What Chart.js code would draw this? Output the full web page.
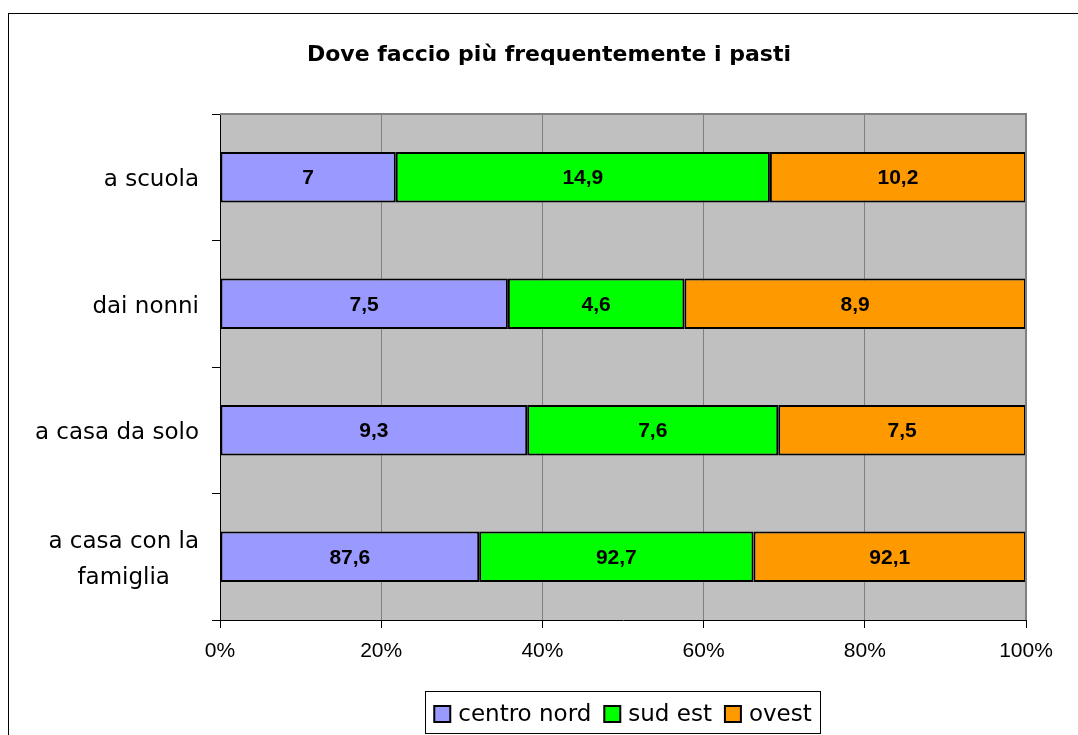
<!DOCTYPE html>
<html>
<head>
<meta charset="utf-8">
<script src="https://cdn.jsdelivr.net/npm/chart.js@4"></script>
<style>
  html, body { margin: 0; padding: 0; background: #fff; }
  #wrap { width: 1078px; height: 735px; }
</style>
</head>
<body>
<div id="wrap"><canvas id="chart" width="1078" height="735"></canvas></div>
<script>
// dati
const titolo = "Dove faccio più frequentemente i pasti";
const categorie = [["a scuola"], ["dai nonni"], ["a casa da solo"], ["a casa con la", "famiglia"]];
const serie = ["centro nord", "sud est", "ovest"];
const centroNord = [7, 7.5, 9.3, 87.6];
const sudEst = [14.9, 4.6, 7.6, 92.7];
const ovest = [10.2, 8.9, 7.5, 92.1];
const colori = ["#9999FF", "#00FF00", "#FF9900"];
const tickPercent = [0, 20, 40, 60, 80, 100];

const valori = [centroNord, sudEst, ovest];
// 100% in pila: percentuale di ogni riga
const totali = categorie.map((c, i) => centroNord[i] + sudEst[i] + ovest[i]);
const percentuali = valori.map(v => v.map((x, i) => x / totali[i] * 100));

const fmt = n => String(n).replace(".", ",");

const cornice = {
  id: "cornice",
  beforeDraw(chart) {
    const { ctx, chartArea: a } = chart;
    ctx.save();
    // bordo esterno
    ctx.strokeStyle = "#000";
    ctx.lineWidth = 1;
    ctx.strokeRect(8.5, 13.5, chart.width + 20, chart.height + 20);
    // sfondo area grafico
    ctx.fillStyle = "#C0C0C0";
    ctx.fillRect(a.left, a.top, a.right - a.left, a.bottom - a.top);
    // titolo
    ctx.fillStyle = "#000";
    ctx.font = "bold 22px 'DejaVu Sans', sans-serif";
    ctx.textAlign = "center";
    ctx.textBaseline = "middle";
    ctx.fillText(titolo, 549, 55);
    ctx.restore();
  },
  afterDatasetsDraw(chart) {
    const { ctx, chartArea: a } = chart;
    ctx.save();
    ctx.strokeStyle = "#808080";
    ctx.lineWidth = 2;
    ctx.beginPath();
    ctx.moveTo(a.left, a.top);
    ctx.lineTo(a.right, a.top);
    ctx.lineTo(a.right, a.bottom);
    ctx.stroke();

    // etichette valori
    ctx.fillStyle = "#000";
    ctx.font = "bold 21px 'Liberation Sans', Arial, sans-serif";
    ctx.textAlign = "center";
    ctx.textBaseline = "middle";
    chart.data.datasets.forEach((ds, di) => {
      chart.getDatasetMeta(di).data.forEach((bar, i) => {
        const x = (bar.x + bar.base) / 2;
        ctx.fillText(fmt(valori[di][i]), x, bar.y + 1);
      });
    });

    // etichette categorie (asse y)
    const ys = chart.scales.y;
    ctx.font = "23px 'DejaVu Sans', sans-serif";
    const destra = a.left - 21;
    categorie.forEach((righe, i) => {
      const yc = ys.getPixelForTick(i) + 3;
      const larg = Math.max(...righe.map(r => ctx.measureText(r).width));
      const cx = destra - larg / 2;
      const lh = 36;
      righe.forEach((r, k) => {
        ctx.fillText(r, cx, yc + (k - (righe.length - 1) / 2) * lh);
      });
    });

    // legenda
    ctx.font = "23px 'DejaVu Sans', sans-serif";
    ctx.textAlign = "left";
    const quad = 16, spazio = 8, gap = 13, padX = 9;
    const larghezze = serie.map(s => quad + spazio + ctx.measureText(s).width);
    const totale = larghezze.reduce((s, w) => s + w, 0) + gap * (serie.length - 1);
    const boxW = totale + padX * 2;
    const boxL = 623 - boxW / 2;
    const boxT = 691, cy = 714;
    ctx.strokeStyle = "#000";
    ctx.lineWidth = 1;
    ctx.strokeRect(Math.round(boxL) + 0.5, boxT + 0.5, Math.round(boxW), 42);
    let x = boxL + padX;
    serie.forEach((s, i) => {
      ctx.fillStyle = colori[i];
      ctx.fillRect(x, cy - quad / 2, quad, quad);
      ctx.strokeStyle = "#000";
      ctx.lineWidth = 2;
      ctx.strokeRect(x, cy - quad / 2, quad, quad);
      ctx.fillStyle = "#000";
      ctx.fillText(s, x + quad + spazio, cy + 1);
      x += larghezze[i] + gap;
    });
    ctx.restore();
  }
};

new Chart(document.getElementById("chart"), {
  type: "bar",
  data: {
    labels: categorie.map(c => c.join(" ")),
    datasets: serie.map((s, i) => ({
      label: s,
      data: percentuali[i],
      backgroundColor: colori[i],
      borderColor: "#000",
      borderWidth: 2,
      borderSkipped: false,
      barPercentage: 0.4,
      categoryPercentage: 1
    }))
  },
  options: {
    indexAxis: "y",
    responsive: false,
    animation: false,
    layout: { padding: { left: 0, right: 52, top: 114, bottom: 0 } },
    plugins: {
      legend: { display: false },
      tooltip: { enabled: false },
      title: { display: false }
    },
    scales: {
      x: {
        stacked: true,
        min: 0,
        max: 100,
        afterBuildTicks: s => { s.ticks = tickPercent.map(v => ({ value: v })); },
        afterFit: s => { s.height = 115; },
        grid: { color: "#808080", lineWidth: 1, tickLength: 8, tickColor: "#000" },
        border: { color: "#000", width: 1 },
        ticks: {
          color: "#000",
          padding: 11,
          font: { family: "'Liberation Sans', Arial, sans-serif", size: 21 },
          callback: v => v + "%"
        }
      },
      y: {
        stacked: true,
        afterFit: s => { s.width = 220; },
        grid: { offset: true, drawOnChartArea: false, tickLength: 8, color: "#000" },
        border: { color: "#000", width: 1 },
        ticks: { display: false }
      }
    }
  },
  plugins: [cornice]
});
</script>
</body>
</html>
